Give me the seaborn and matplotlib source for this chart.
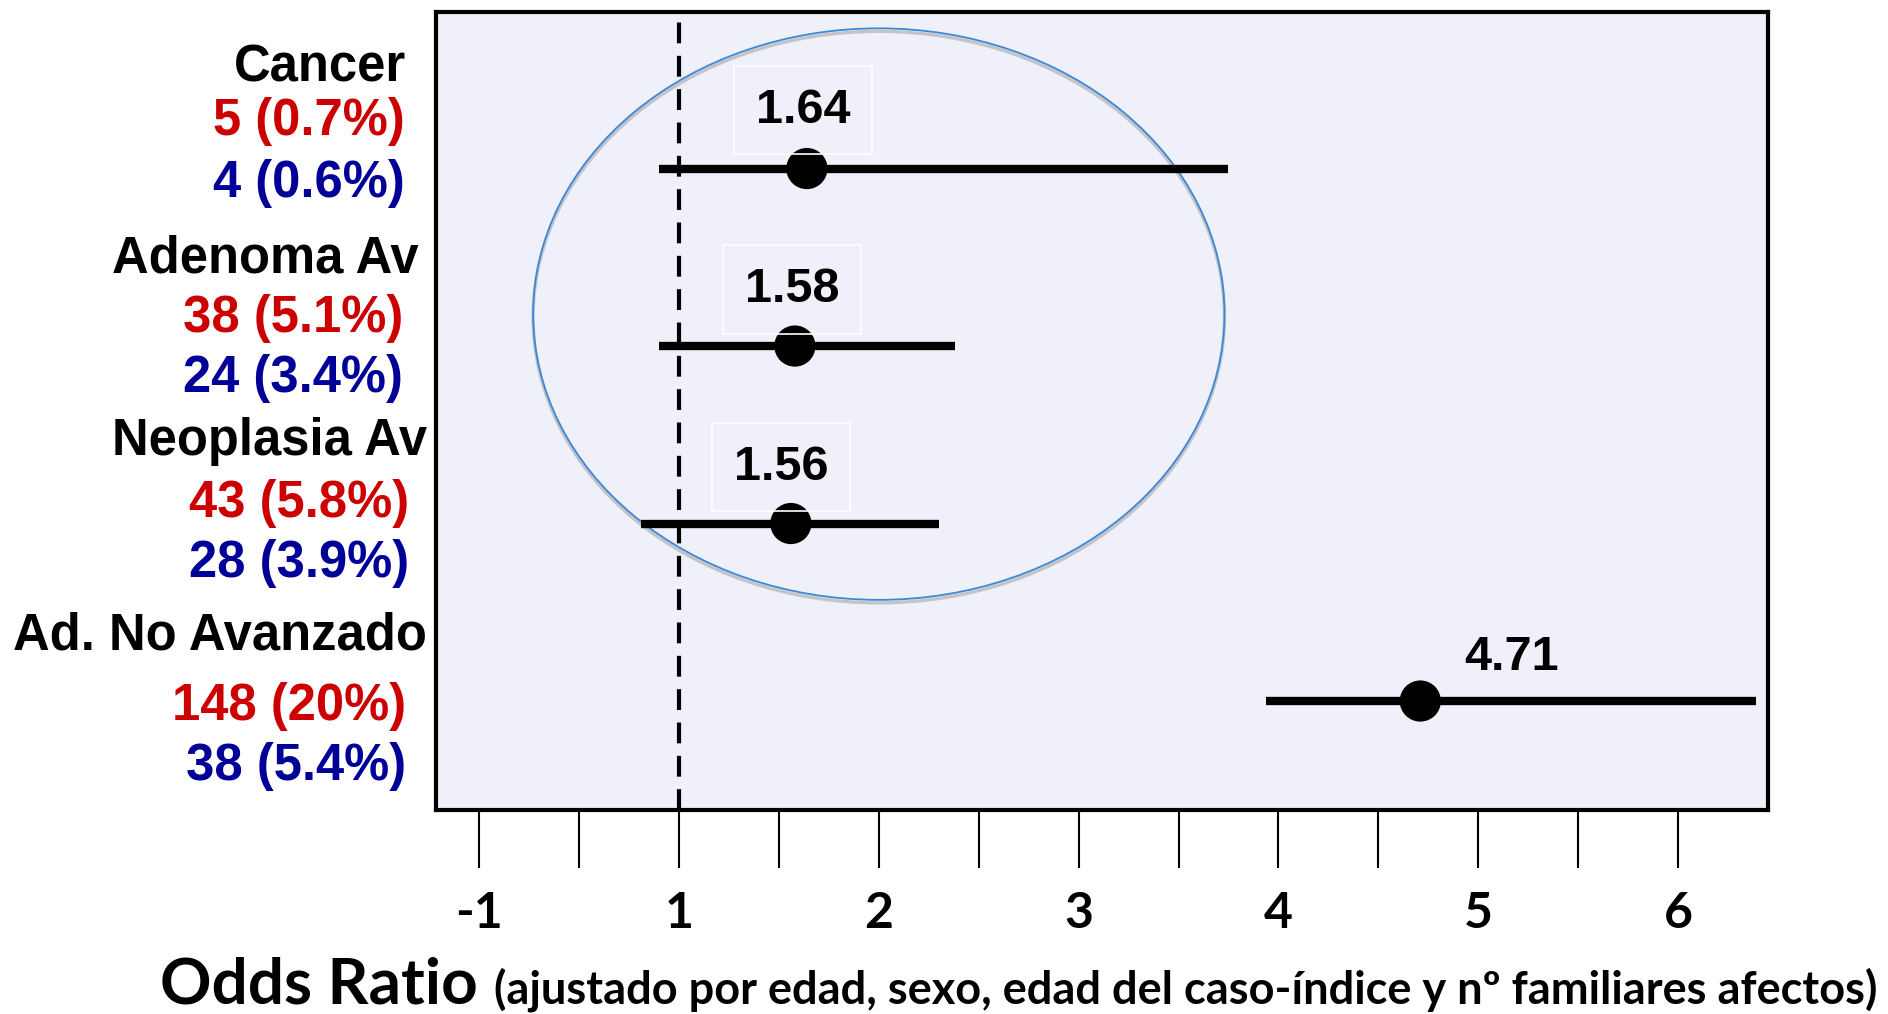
import matplotlib
matplotlib.use("Agg")
import matplotlib.pyplot as plt
import pandas as pd
import seaborn as sns
from matplotlib.patches import Ellipse
from matplotlib import transforms

# ---- data -------------------------------------------------------------
categories = ["Cancer", "Adenoma Av", "Neoplasia Av", "Ad. No Avanzado"]
odds_ratio = [1.64, 1.58, 1.56, 4.71]
ci_low = [0.90, 0.90, 0.81, 3.94]
ci_high = [3.75, 2.38, 2.30, 6.39]
cases_text = ["5 (0.7%)", "38 (5.1%)", "43 (5.8%)", "148 (20%)"]
controls_text = ["4 (0.6%)", "24 (3.4%)", "28 (3.9%)", "38 (5.4%)"]
tick_values = [0, 0.5, 1, 1.5, 2, 2.5, 3, 3.5, 4, 4.5, 5, 5.5, 6]
tick_labels = ["-1", "", "1", "", "2", "", "3", "", "4", "", "5", "", "6"]
boxed_labels = [True, True, True, False]

df = pd.DataFrame({
    "category": categories,
    "odds": odds_ratio,
    "low": ci_low,
    "high": ci_high,
    "row": list(range(len(categories))),
})

# ---- style ------------------------------------------------------------
sns.set_theme(style="white")
plt.rcParams["font.family"] = ["Liberation Sans", "DejaVu Sans"]

W, H = 1888, 1014
fig = plt.figure(figsize=(W / 100, H / 100), dpi=100)
fig.patch.set_facecolor("white")
ax = fig.add_axes([436 / W, 1 - 810 / H, (1768 - 436) / W, (810 - 12) / H])
ax.set_facecolor("#F0F0FB")

# reference line at OR = 1
ax.axvline(1, color="black", lw=3.0, linestyle=(0, (5.0, 3.0)), zorder=2)

# confidence intervals and point estimates
ax.hlines(df["row"], df["low"], df["high"], color="black", lw=6, zorder=3)
sns.scatterplot(data=df, x="odds", y="row", s=880, color="black",
                edgecolor="none", legend=False, ax=ax, zorder=4)

# value labels above each estimate
label_offsets = [(-4, 46), (-3, 44), (-10, 44), (91, 31)]
for (v, r, boxed, (dx, dy)) in zip(df["odds"], df["row"], boxed_labels, label_offsets):
    bbox = dict(boxstyle="square,pad=0.45", fc="none", ec="white", lw=1.2) if boxed else None
    ax.annotate(f"{v:.2f}", xy=(v, r), xytext=(dx, dy), textcoords="offset pixels",
                ha="center", va="baseline", fontsize=35, fontweight="bold",
                color="black", bbox=bbox, zorder=5)

# highlight ellipse around the advanced lesions, with a soft shadow
shadow_tr = transforms.offset_copy(ax.transData, fig=fig, x=0, y=-3, units="dots")
ax.add_patch(Ellipse((2.0, 0.82), 3.46, 3.22, fill=False, ec="#C4C4C8",
                     lw=2.4, transform=shadow_tr, zorder=1.5))
ax.add_patch(Ellipse((2.0, 0.82), 3.46, 3.22, fill=False, ec="#3A88D8",
                     lw=1.3, zorder=1.6))

# axes, ticks
ax.set_xlim(-0.216, 6.45)
ax.set_ylim(3.614, -0.882)
ax.set_yticks([])
ax.set_xticks(tick_values, tick_labels)
ax.tick_params(axis="x", direction="out", length=42, width=1.5, color="black",
               pad=16, bottom=True, labelcolor="black")
for lab in ax.get_xticklabels():
    lab.set_fontfamily("Lato")
    lab.set_fontweight("bold")
    lab.set_fontsize(36)
    lab.set_color("black")
for sp in ax.spines.values():
    sp.set_visible(True)
    sp.set_color("black")
    sp.set_linewidth(3)
ax.set_xlabel("")
ax.set_ylabel("")

# row labels with case / control counts
title_right = [406, 419, 427, 427]
title_base = [82, 273, 455, 650]
cases_right = [405, 403, 409, 406]
cases_base = [135, 332, 517, 720]
controls_right = [405, 403, 409, 406]
controls_base = [197, 392, 577, 780]
for i, cat in enumerate(categories):
    fig.text(title_right[i] / W, 1 - title_base[i] / H, cat, ha="right",
             va="baseline", fontsize=36.5, fontweight="bold", color="black")
    fig.text(cases_right[i] / W, 1 - cases_base[i] / H, cases_text[i], ha="right",
             va="baseline", fontsize=36.5, fontweight="bold", color="#CC0000")
    fig.text(controls_right[i] / W, 1 - controls_base[i] / H, controls_text[i],
             ha="right", va="baseline", fontsize=36.5, fontweight="bold",
             color="#000099")

# axis title
fig.text(160 / W, 1 - 1003 / H, "Odds Ratio", ha="left", va="baseline",
         fontsize=46, fontweight="bold", family="Lato", color="black")
fig.text(494 / W, 1 - 1003 / H,
         "(ajustado por edad, sexo, edad del caso-índice y nº familiares afectos)",
         ha="left", va="baseline", fontsize=32.5, fontweight="bold", family="Lato",
         color="black")

fig.savefig("out.png", dpi=100, facecolor="white")
